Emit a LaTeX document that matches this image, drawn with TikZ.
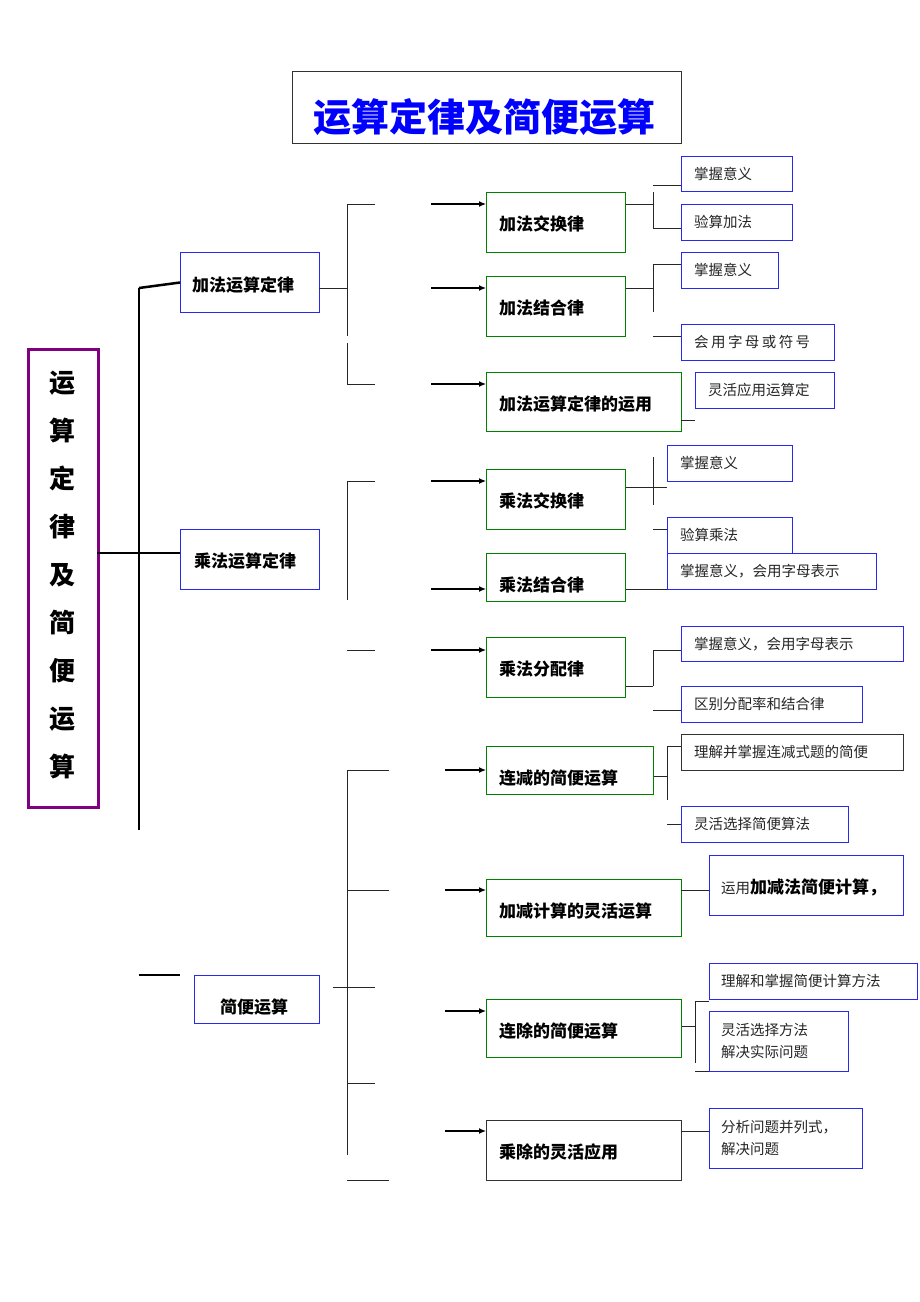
\documentclass[tikz,border=0pt]{standalone}
\usepackage{fontspec}
\setmainfont{Noto Sans CJK SC}
\newfontfamily\cjkb{Noto Sans CJK SC}[BoldFont={* Bold}]
\usetikzlibrary{arrows.meta}
\definecolor{bblue}{RGB}{40,40,240}
\definecolor{ggreen}{RGB}{0,130,0}
\definecolor{ppurple}{RGB}{128,0,128}
\newcommand{\bx}[6]{\node[#6,anchor=north west,minimum width={(#4-#2)*1pt},minimum height={(#5-#3)*1pt}] (#1) at (#2,#3) {};}
\tikzset{
 bb/.style={draw=bblue,line width=1pt,inner sep=0pt},
 gb/.style={draw=ggreen,line width=1pt,inner sep=0pt},
 kb/.style={draw=black!80,line width=1pt,inner sep=0pt},
 big/.style={anchor=west,inner sep=0pt,font=\fontsize{17}{17}\selectfont\bfseries},
 sm/.style={anchor=west,inner sep=0pt,font=\fontsize{14.5}{22}\selectfont,align=left,text=black!85},
 ln/.style={line width=0.9pt,black!85},
 tk/.style={line width=2.5pt},
 ar/.style={line width=1.2pt,-{Latex[length=7pt,width=6pt]}}
}
\begin{document}
\begin{tikzpicture}[x=1pt,y=-1pt]
\useasboundingbox[fill=white] (0,0) rectangle (920,1302);
% title
\bx{t}{292}{71}{681}{143}{draw=black!80,line width=1pt}
\node[font=\fontsize{38}{38}\selectfont\bfseries,text=blue] (tt) at (484,117) {运算定律及简便运算};
% main
\bx{m}{27}{348}{97}{806}{draw=ppurple,line width=3pt}
\node[font=\fontsize{26}{48}\selectfont\bfseries,align=center] (mt) at (62,575) {运\\算\\定\\律\\及\\简\\便\\运\\算};
% level 1
\bx{a}{180}{252}{319}{312}{bb}\node[big] (at) at (192,285) {加法运算定律};
\bx{b}{180}{529}{319}{589}{bb}\node[big] (bt) at (194,561) {乘法运算定律};
\bx{c}{194}{975}{319}{1023}{bb}\node[big] (ct) at (220,1007) {简便运算};
\coordinate (s1) at (139,288); \coordinate (s2) at (139,830);
\draw[tk] (s1) -- (s2);
\draw[tk] (s1) -- (a.west);
\coordinate (s3) at (97,553); \draw[tk] (s3) -- (b.west |- s3);
\coordinate (s4) at (139,975); \coordinate (s5) at (180,975); \draw[tk] (s4) -- (s5);
% bracket 1
\coordinate (p1) at (375,204); \coordinate (p2) at (347,204); \coordinate (p3) at (347,336);
\draw[ln] (p1) -- (p2) -- (p3);
\coordinate (p4) at (347,343); \coordinate (p5) at (347,384); \coordinate (p6) at (375,384);
\draw[ln] (p4) -- (p5) -- (p6);
\coordinate (p7) at (319,288); \coordinate (p8) at (347,288); \draw[ln] (p7) -- (p8);
% bracket 2
\coordinate (q1) at (375,481); \coordinate (q2) at (347,481); \coordinate (q3) at (347,600);
\draw[ln] (q1) -- (q2) -- (q3);
\coordinate (q4) at (347,650); \coordinate (q5) at (375,650); \draw[ln] (q4) -- (q5);
% bracket 3
\coordinate (r1) at (389,770); \coordinate (r2) at (347,770); \coordinate (r3) at (347,1155);
\draw[ln] (r1) -- (r2) -- (r3);
\coordinate (r4) at (347,890); \coordinate (r5) at (389,890); \draw[ln] (r4) -- (r5);
\coordinate (r6) at (333,987); \coordinate (r7) at (375,987); \draw[ln] (r6) -- (r7);
\coordinate (r8) at (347,1083); \coordinate (r9) at (375,1083); \draw[ln] (r8) -- (r9);
\coordinate (r10) at (347,1180); \coordinate (r11) at (389,1180); \draw[ln] (r10) -- (r11);
% green boxes
\bx{g1}{486}{192}{625}{252}{gb}\node[big] (g1t) at (499,224) {加法交换律};
\bx{g2}{486}{276}{625}{336}{gb}\node[big] (g2t) at (499,308) {加法结合律};
\bx{g3}{486}{372}{681}{431}{gb}\node[big] (g3t) at (499,404) {加法运算定律的运用};
\bx{g4}{486}{469}{625}{529}{gb}\node[big] (g4t) at (499,501) {乘法交换律};
\bx{g5}{486}{553}{625}{601}{gb}\node[big] (g5t) at (499,585) {乘法结合律};
\bx{g6}{486}{637}{625}{697}{gb}\node[big] (g6t) at (499,669) {乘法分配律};
\bx{g7}{486}{746}{653}{794}{gb}\node[big] (g7t) at (499,778) {连减的简便运算};
\bx{g8}{486}{879}{681}{936}{gb}\node[big] (g8t) at (499,911) {加减计算的灵活运算};
\bx{g9}{486}{999}{681}{1057}{gb}\node[big] (g9t) at (499,1031) {连除的简便运算};
\bx{g10}{486}{1120}{681}{1180}{kb}\node[big] (g10t) at (499,1152) {乘除的灵活应用};
% arrows
\foreach \y/\n in {204/g1,288/g2,384/g3,481/g4,589/g5,650/g6}{
 \coordinate (A\n) at (431,\y); \draw[ar] (A\n) -- (\n.west |- A\n);}
\foreach \y/\n in {770/g7,890/g8,1011/g9,1131/g10}{
 \coordinate (A\n) at (445,\y); \draw[ar] (A\n) -- (\n.west |- A\n);}
% small boxes
\bx{s1b}{681}{156}{792}{191}{bb}\node[sm] (s1t) at (694,174) {掌握意义};
\bx{s2b}{681}{204}{792}{240}{bb}\node[sm] (s2t) at (694,222) {验算加法};
\bx{s3b}{681}{252}{778}{288}{bb}\node[sm] (s3t) at (694,270) {掌握意义};
\bx{s4b}{681}{324}{834}{360}{bb}\node[sm] (s4t) at (694,342) {会\,用\,字\,母\,或\,符\,号};
\bx{s5b}{695}{372}{834}{408}{bb}\node[sm] (s5t) at (708,390) {灵活应用运算定};
\bx{s6b}{667}{445}{792}{481}{bb}\node[sm] (s6t) at (680,463) {掌握意义};
\bx{s7b}{667}{517}{792}{553}{bb}\node[sm] (s7t) at (680,535) {验算乘法};
\bx{s8b}{667}{553}{876}{589}{bb}\node[sm] (s8t) at (680,571) {掌握意义，会用字母表示};
\bx{s9b}{681}{626}{903}{661}{bb}\node[sm] (s9t) at (694,644) {掌握意义，会用字母表示};
\bx{s10b}{681}{686}{862}{722}{bb}\node[sm] (s10t) at (694,704) {区别分配率和结合律};
\bx{s11b}{681}{734}{903}{770}{kb}\node[sm] (s11t) at (694,752) {理解并掌握连减式题的简便};
\bx{s12b}{681}{806}{848}{842}{bb}\node[sm] (s12t) at (694,824) {灵活选择简便算法};
\bx{s13b}{709}{855}{903}{915}{bb}\node[sm] (s13t) at (721,887) {运用{\fontsize{17}{17}\selectfont\bfseries\color{black}加减法简便计算，}};
\bx{s14b}{709}{963}{917}{999}{bb}\node[sm] (s14t) at (721,981) {理解和掌握简便计算方法};
\bx{s15b}{709}{1011}{848}{1071}{bb}\node[sm] (s15t) at (721,1041) {灵活选择方法\\解决实际问题};
\bx{s16b}{709}{1108}{862}{1168}{bb}\node[sm] (s16t) at (721,1138) {分析问题并列式，\\解决问题};
% right connectors
\coordinate (c1) at (653,204); \draw[ln] (g1.east |- c1) -- (c1);
\coordinate (c1a) at (653,185); \coordinate (c1b) at (653,228);
\draw[ln] (s1b.west |- c1a) -- (c1a); \draw[ln] (653,192) -- (c1b) -- (s2b.west |- c1b);
\coordinate (c2) at (653,288); \draw[ln] (g2.east |- c2) -- (c2);
\coordinate (c2a) at (653,264); \coordinate (c2b) at (653,312);
\draw[ln] (s3b.west |- c2a) -- (c2a) -- (c2b);
\coordinate (c2c) at (653,336); \draw[ln] (c2c) -- (s4b.west |- c2c);
\coordinate (c3) at (681,420); \coordinate (c3b) at (695,420); \draw[ln] (c3) -- (c3b);
\coordinate (c4) at (667,487); \draw[ln] (g4.east |- c4) -- (c4);
\coordinate (c4a) at (653,457); \coordinate (c4b) at (653,505); \draw[ln] (c4a) -- (c4b);
\coordinate (c4c) at (653,529); \draw[ln] (c4c) -- (s7b.west |- c4c);
\coordinate (c5) at (667,589); \draw[ln] (g5.east |- c5) -- (c5);
\coordinate (c6) at (653,686); \draw[ln] (g6.east |- c6) -- (c6);
\coordinate (c6a) at (653,650); \draw[ln] (c6) -- (c6a) -- (s9b.west |- c6a);
\coordinate (c6b) at (653,710); \draw[ln] (c6b) -- (s10b.west |- c6b);
\coordinate (c7) at (667,776); \draw[ln] (g7.east |- c7) -- (c7);
\coordinate (c7a) at (667,746); \coordinate (c7b) at (667,800); \draw[ln] (s11b.west |- c7a) -- (c7a) -- (c7b);
\coordinate (c7c) at (667,824); \draw[ln] (c7c) -- (s12b.west |- c7c);
\coordinate (c8) at (681,890); \draw[ln] (c8) -- (s13b.west |- c8);
\coordinate (c9) at (695,1026); \draw[ln] (g9.east |- c9) -- (c9);
\coordinate (c9a) at (695,1001); \coordinate (c9b) at (695,1063); \draw[ln] (s14b.west |- c9a) -- (c9a) -- (c9b);
\coordinate (c9c) at (695,1071); \draw[ln] (c9c) -- (s15b.west |- c9c);
\coordinate (c10) at (681,1131); \draw[ln] (c10) -- (s16b.west |- c10);
\end{tikzpicture}
\end{document}
